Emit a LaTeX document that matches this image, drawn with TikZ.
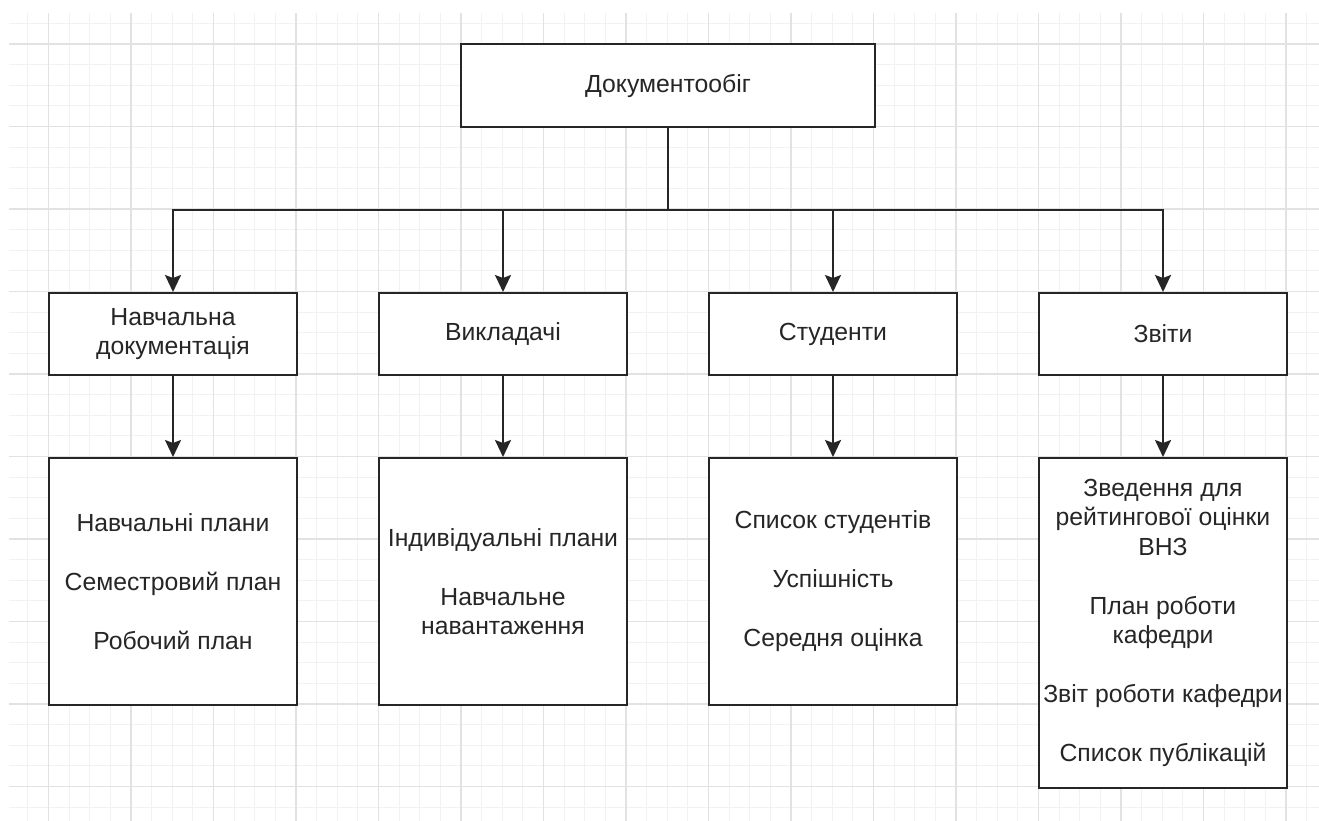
\documentclass[tikz,border=0pt]{standalone}
\usepackage{fontspec}
\setmainfont{Liberation Sans}
\usetikzlibrary{arrows.meta}
\definecolor{ink}{HTML}{262626}
\definecolor{gridmajor}{HTML}{E2E2E2}
\definecolor{gridminor}{HTML}{F2F2F2}
\begin{document}
\begin{tikzpicture}[x=1pt,y=-1pt,
  box/.style={draw=ink, line width=2pt, fill=white, minimum width=248pt,
    align=center, text=ink, inner sep=0pt,
    font=\fontsize{24.75}{29.5}\selectfont},
  arr/.style={draw=ink, line width=2pt,
    -{Stealth[length=17pt,width=16pt,inset=3pt]}},
  minorline/.style={draw=gridminor, line width=1pt},
  majorline/.style={draw=gridmajor, line width=1.2pt},
]
\useasboundingbox (0,0) rectangle (1319,821);
\fill[white] (0,0) rectangle (1319,821);

% background grid
\begin{scope}
  \clip (9,13) rectangle (1319,821);
  \foreach \i in {-2,...,62}
    \draw[minorline] ({48.5+\i*20.625},13) -- ++(0,808);
  \foreach \j in {-2,...,38}
    \draw[minorline] (9,{44+\j*20.625}) -- ++(1310,0);
  \foreach \k in {0,...,15}
    \draw[majorline] ({48.5+\k*82.5},13) -- ++(0,808);
  \foreach \k in {0,...,9}
    \draw[majorline] (9,{44+\k*82.5}) -- ++(1310,0);
\end{scope}

% root
\node[box, minimum width=414pt, minimum height=83pt] (root) at (668,85.5) {Документообіг};
\coordinate (bus) at (668,210);

% second level
\node[box, minimum height=82pt] (b1) at (173,334) {Навчальна\\документація};
\node[box, minimum height=82pt] (b2) at (503,334) {Викладачі};
\node[box, minimum height=82pt] (b3) at (833,334) {Студенти};
\node[box, minimum height=82pt] (b4) at (1163,334) {Звіти};

% third level
\node[box, minimum height=247pt] (c1) at (173,581.5)
  {Навчальні плани\\[29.5pt]Семестровий план\\[29.5pt]Робочий план};
\node[box, minimum height=247pt] (c2) at (503,581.5)
  {Індивідуальні плани\\[29.5pt]Навчальне\\навантаження};
\node[box, minimum height=247pt] (c3) at (833,581.5)
  {Список студентів\\[29.5pt]Успішність\\[29.5pt]Середня оцінка};
\node[box, minimum height=330pt] (c4) at (1163,623)
  {Зведення для\\рейтингової оцінки\\ВНЗ\\[29.5pt]План роботи\\кафедри\\[29.5pt]Звіт роботи кафедри\\[29.5pt]Список публікацій};

% connectors
\draw[ink, line width=2pt] (root.south) -- (bus);
\foreach \n in {b1,b2,b3,b4}
  \draw[arr] (bus) -| (\n.north);
\draw[arr] (b1.south) -- (c1.north);
\draw[arr] (b2.south) -- (c2.north);
\draw[arr] (b3.south) -- (c3.north);
\draw[arr] (b4.south) -- (c4.north);
\end{tikzpicture}
\end{document}
